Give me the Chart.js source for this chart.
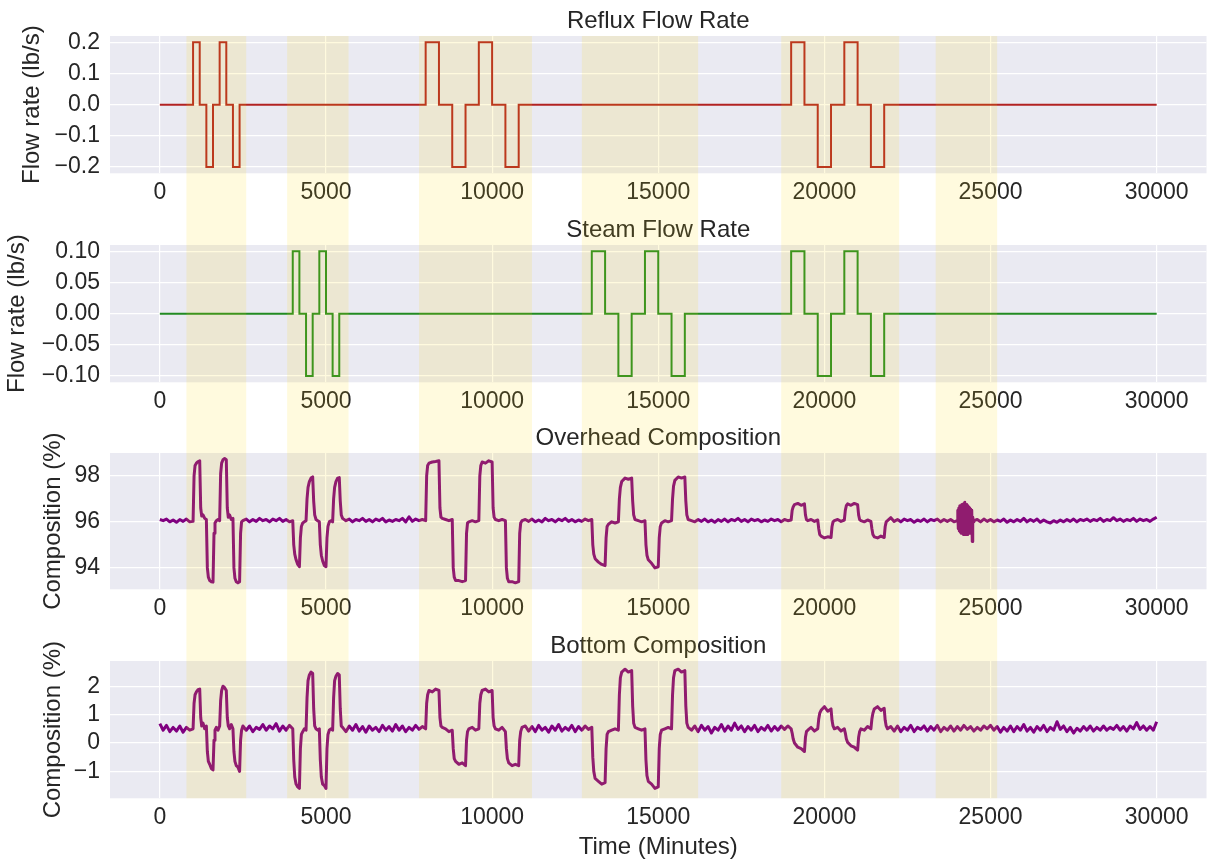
<!DOCTYPE html>
<html>
<head>
<meta charset="utf-8">
<title>Column step tests</title>
<script src="https://cdn.jsdelivr.net/npm/chart.js@4.4.1/dist/chart.umd.min.js"></script>
<style>
  body { margin: 0; background: #fff; }
  #wrap { position: relative; width: 1209px; height: 862px; }
  #wrap canvas { position: absolute; left: 0; }
</style>
</head>
<body>
<div id="wrap">
  <canvas id="reflux" width="1209" height="209" style="top:0px"></canvas>
  <canvas id="steam" width="1209" height="208" style="top:209px"></canvas>
  <canvas id="overhead" width="1209" height="208" style="top:417px"></canvas>
  <canvas id="bottom" width="1209" height="237" style="top:625px"></canvas>
</div>
<script>
// x axis (minutes)
const xTicks = [0, 5000, 10000, 15000, 20000, 25000, 30000];

// test windows shaded across all panels
const bandStart = [800, 3830, 7800, 12700, 18700, 23350];
const bandEnd = [2600, 5680, 11200, 16200, 22250, 25200];

// reflux input steps: value holds from each time until the next one
const refluxTimes = [0, 1000, 1200, 1400, 1600, 1800, 2000, 2200, 2400,
  8000, 8400, 8800, 9200, 9600, 10000, 10400, 10800,
  19000, 19400, 19800, 20200, 20600, 21000, 21400, 21800, 30000];
const refluxRate = [0, 0.2, 0, -0.2, 0, 0.2, 0, -0.2, 0,
  0.2, 0, -0.2, 0, 0.2, 0, -0.2, 0,
  0.2, 0, -0.2, 0, 0.2, 0, -0.2, 0, 0];

// steam input steps
const steamTimes = [0, 4000, 4200, 4400, 4600, 4800, 5000, 5200, 5400,
  13000, 13400, 13800, 14200, 14600, 15000, 15400, 15800,
  19000, 19400, 19800, 20200, 20600, 21000, 21400, 21800, 30000];
const steamRate = [0, 0.1, 0, -0.1, 0, 0.1, 0, -0.1, 0,
  0.1, 0, -0.1, 0, 0.1, 0, -0.1, 0,
  0.1, 0, -0.1, 0, 0.1, 0, -0.1, 0, 0];

// overhead composition [minute, %]
const overhead = [
  [0,96.1],[100,96.05],[200,96.12],[300,96.0],[400,96.08],[500,95.98],[600,96.1],[700,96.02],[800,96.12],[900,96.0],[1000,96.02],
  [1030,98.0],[1060,98.45],[1100,98.55],[1150,98.62],[1200,98.65],
  [1230,96.6],[1260,96.25],[1300,96.3],[1350,96.15],[1400,96.1],
  [1430,94.0],[1460,93.6],[1500,93.45],[1550,93.4],[1600,93.38],
  [1630,95.5],[1660,95.95],[1700,96.05],[1750,96.1],[1800,96.05],
  [1830,98.1],[1860,98.55],[1900,98.7],[1950,98.75],[2000,98.7],
  [2030,96.6],[2060,96.2],[2100,96.3],[2150,96.1],[2200,96.15],
  [2230,94.0],[2260,93.55],[2300,93.4],[2350,93.35],[2400,93.4],
  [2430,95.5],[2460,96.0],[2500,96.05],[2600,96.12],[2700,96.0],[2800,96.1],[2900,96.02],[3000,96.15],[3100,96.05],[3200,96.1],
  [3300,96.0],[3400,96.12],[3500,96.05],[3600,96.15],[3700,96.02],[3800,96.1],[3900,96.0],[4000,96.05],
  [4030,95.0],[4060,94.6],[4100,94.35],[4150,94.15],[4200,94.05],
  [4230,95.3],[4260,95.8],[4300,95.95],[4350,96.0],[4400,96.05],
  [4430,97.0],[4460,97.5],[4500,97.75],[4550,97.9],[4600,97.95],
  [4630,96.9],[4660,96.3],[4700,96.1],[4750,96.05],[4800,96.0],
  [4830,95.0],[4860,94.55],[4900,94.3],[4950,94.1],[5000,94.05],
  [5030,95.3],[5060,95.8],[5100,96.0],[5150,96.05],[5200,96.0],
  [5230,97.0],[5260,97.5],[5300,97.75],[5350,97.9],[5400,97.92],
  [5430,96.9],[5460,96.3],[5500,96.15],[5600,96.05],[5700,96.12],[5800,96.0],[5900,96.1],[6000,96.05],[6100,96.15],[6200,96.02],
  [6300,96.1],[6400,96.0],[6500,96.12],[6600,96.05],[6700,96.15],[6800,96.0],[6900,96.08],[7000,96.02],[7100,96.1],[7200,96.05],
  [7300,96.15],[7400,96.0],[7500,96.22],[7600,96.02],[7700,96.12],[7800,96.05],[7900,96.1],[8000,96.05],
  [8030,98.0],[8060,98.45],[8100,98.55],[8200,98.6],[8300,98.62],[8400,98.65],
  [8430,96.6],[8460,96.2],[8500,96.15],[8600,96.1],[8700,96.05],[8800,96.1],
  [8830,94.0],[8860,93.6],[8900,93.45],[9000,93.45],[9100,93.4],[9200,93.45],
  [9230,95.5],[9260,95.95],[9300,96.0],[9400,96.05],[9500,96.0],[9600,96.05],
  [9630,98.0],[9660,98.45],[9700,98.6],[9800,98.55],[9900,98.65],[10000,98.6],
  [10030,96.6],[10060,96.2],[10100,96.1],[10200,96.05],[10300,96.1],[10400,96.05],
  [10430,94.0],[10460,93.55],[10500,93.4],[10600,93.4],[10700,93.35],[10800,93.4],
  [10830,95.5],[10860,95.95],[10900,96.05],[11000,96.1],[11100,96.02],[11200,96.12],[11300,96.0],[11400,96.08],[11500,96.0],
  [11600,96.15],[11700,96.05],[11800,96.1],[11900,96.0],[12000,96.12],[12100,96.05],[12200,96.15],[12300,96.02],[12400,96.1],
  [12500,96.0],[12600,96.08],[12700,96.02],[12800,96.12],[12900,96.05],[13000,96.1],
  [13030,95.0],[13060,94.6],[13100,94.4],[13200,94.25],[13300,94.15],[13400,94.1],
  [13430,95.3],[13460,95.8],[13500,95.9],[13600,96.0],[13700,95.95],[13800,96.0],
  [13830,97.0],[13860,97.5],[13900,97.75],[14000,97.9],[14100,97.85],[14200,97.9],
  [14230,96.9],[14260,96.3],[14300,96.1],[14400,96.05],[14500,96.0],[14600,96.05],
  [14630,95.0],[14660,94.55],[14700,94.35],[14800,94.2],[14900,94.0],[15000,94.05],
  [15030,95.3],[15060,95.8],[15100,95.95],[15200,96.05],[15300,96.0],[15400,96.05],
  [15430,97.0],[15460,97.55],[15500,97.8],[15600,97.95],[15700,97.9],[15800,97.95],
  [15830,96.9],[15860,96.3],[15900,96.1],[16000,96.05],[16100,96.0],[16200,96.1],[16300,96.02],[16400,96.12],[16500,96.0],
  [16600,96.08],[16700,95.98],[16800,96.1],[16900,96.02],[17000,96.12],[17100,96.0],[17200,96.1],[17300,96.05],[17400,96.15],
  [17500,96.02],[17600,96.1],[17700,96.0],[17800,96.12],[17900,96.05],[18000,96.1],[18100,96.0],[18200,96.08],[18300,96.02],
  [18400,96.12],[18500,96.05],[18600,96.1],[18700,96.0],[18800,96.1],[18900,96.05],[19000,96.08],
  [19030,96.5],[19060,96.65],[19100,96.75],[19200,96.8],[19300,96.72],[19400,96.78],
  [19430,96.3],[19460,96.1],[19500,96.05],[19600,96.1],[19700,96.02],[19800,96.08],
  [19830,95.7],[19860,95.45],[19900,95.38],[20000,95.3],[20100,95.35],[20200,95.32],
  [20230,95.8],[20260,96.0],[20300,96.05],[20400,96.1],[20500,96.02],[20600,96.08],
  [20630,96.5],[20660,96.7],[20700,96.78],[20800,96.72],[20900,96.8],[21000,96.75],
  [21030,96.3],[21060,96.1],[21100,96.05],[21200,96.0],[21300,96.08],[21400,96.02],
  [21430,95.7],[21460,95.45],[21500,95.35],[21600,95.3],[21700,95.38],[21800,95.32],
  [21830,95.8],[21860,96.0],[21900,96.05],[22000,96.18],[22100,96.02],[22200,96.1],[22300,96.0],[22400,96.12],[22500,96.05],
  [22600,96.1],[22700,95.98],[22800,96.08],[22900,96.02],[23000,96.12],[23100,96.0],[23200,96.1],[23300,96.05],[23400,96.12],
  [23500,96.0],[23600,96.1],[23700,96.02],[23800,96.1],[23900,96.0],[24000,96.05],
  [24015,96.5],[24030,95.7],[24045,96.6],[24060,95.6],[24075,96.7],[24090,95.55],[24105,96.65],[24120,95.5],[24135,96.75],
  [24150,95.5],[24165,96.7],[24180,95.45],[24195,96.8],[24210,95.5],[24225,96.85],[24240,95.45],[24255,96.7],[24270,95.5],
  [24285,96.75],[24300,95.45],[24315,96.7],[24330,95.55],[24345,96.65],[24360,95.5],[24375,96.6],[24390,95.55],[24405,96.55],
  [24420,95.6],[24435,96.5],[24450,95.15],[24465,96.2],[24480,96.0],[24500,96.05],
  [24600,96.1],[24700,96.0],[24800,96.12],[24900,96.02],[25000,96.1],[25100,96.0],[25200,96.08],[25300,96.02],[25400,96.12],
  [25500,95.98],[25600,96.08],[25700,96.0],[25800,96.1],[25900,96.02],[26000,96.15],[26100,96.0],[26200,96.1],[26300,96.02],
  [26400,96.12],[26500,95.98],[26600,96.08],[26700,96.0],[26800,95.95],[26900,96.05],[27000,95.98],[27100,96.08],[27200,96.0],
  [27300,96.1],[27400,96.02],[27500,96.12],[27600,96.0],[27700,96.1],[27800,96.05],[27900,96.12],[28000,96.02],[28100,96.1],
  [28200,96.05],[28300,96.15],[28400,96.02],[28500,96.1],[28600,96.05],[28700,96.18],[28800,96.05],[28900,96.12],[29000,96.02],
  [29100,96.1],[29200,96.05],[29300,96.15],[29400,96.02],[29500,96.12],[29600,96.05],[29700,96.1],[29800,96.02],[29900,96.12],
  [30000,96.2]
];

// bottom composition [minute, %]
const bottoms = [
  [0,0.68],[100,0.45],[200,0.62],[300,0.4],[400,0.55],[500,0.42],[600,0.6],[700,0.38],[800,0.55],[900,0.45],[1000,0.5],
  [1030,1.4],[1060,1.7],[1100,1.8],[1150,1.88],[1200,1.9],
  [1230,0.9],[1260,0.6],[1300,0.7],[1350,0.5],[1400,0.6],
  [1430,-0.3],[1460,-0.65],[1500,-0.75],[1550,-0.9],[1600,-0.95],
  [1630,0.1],[1660,0.45],[1700,0.55],[1750,0.45],[1800,0.6],
  [1830,1.5],[1860,1.85],[1900,2.0],[1950,1.95],[2000,1.85],
  [2030,0.9],[2060,0.6],[2100,0.5],[2150,0.65],[2200,0.5],
  [2230,-0.3],[2260,-0.65],[2300,-0.8],[2350,-0.85],[2400,-1.0],
  [2430,0.1],[2460,0.45],[2500,0.6],[2600,0.45],[2700,0.6],[2800,0.4],[2900,0.55],[3000,0.48],[3100,0.65],[3200,0.45],
  [3300,0.6],[3400,0.5],[3500,0.68],[3600,0.42],[3700,0.6],[3800,0.45],[3900,0.62],[4000,0.5],
  [4030,-0.6],[4060,-1.2],[4100,-1.45],[4150,-1.55],[4200,-1.6],
  [4230,-0.2],[4260,0.3],[4300,0.4],[4350,0.5],[4400,0.45],
  [4430,1.6],[4460,2.2],[4500,2.4],[4550,2.5],[4600,2.45],
  [4630,1.2],[4660,0.6],[4700,0.5],[4750,0.45],[4800,0.5],
  [4830,-0.6],[4860,-1.2],[4900,-1.45],[4950,-1.5],[5000,-1.6],
  [5030,-0.2],[5060,0.3],[5100,0.45],[5150,0.5],[5200,0.45],
  [5230,1.6],[5260,2.2],[5300,2.35],[5350,2.45],[5400,2.4],
  [5430,1.2],[5460,0.6],[5500,0.55],[5600,0.4],[5700,0.6],[5800,0.45],[5900,0.65],[6000,0.42],[6100,0.58],[6200,0.38],
  [6300,0.6],[6400,0.45],[6500,0.55],[6600,0.4],[6700,0.62],[6800,0.45],[6900,0.58],[7000,0.42],[7100,0.65],[7200,0.45],
  [7300,0.6],[7400,0.4],[7500,0.55],[7600,0.45],[7700,0.62],[7800,0.48],[7900,0.58],[8000,0.5],
  [8030,1.4],[8060,1.7],[8100,1.85],[8200,1.8],[8300,1.9],[8400,1.85],
  [8430,0.9],[8460,0.6],[8500,0.55],[8600,0.5],[8700,0.4],[8800,0.45],
  [8830,-0.2],[8860,-0.55],[8900,-0.65],[9000,-0.75],[9100,-0.7],[9200,-0.8],
  [9230,0.1],[9260,0.4],[9300,0.5],[9400,0.55],[9500,0.45],[9600,0.5],
  [9630,1.4],[9660,1.7],[9700,1.85],[9800,1.9],[9900,1.8],[10000,1.85],
  [10030,0.9],[10060,0.6],[10100,0.5],[10200,0.45],[10300,0.55],[10400,0.4],
  [10430,-0.2],[10460,-0.55],[10500,-0.7],[10600,-0.8],[10700,-0.75],[10800,-0.8],
  [10830,0.1],[10860,0.4],[10900,0.55],[11000,0.6],[11100,0.42],[11200,0.58],[11300,0.4],[11400,0.62],[11500,0.45],
  [11600,0.55],[11700,0.38],[11800,0.6],[11900,0.45],[12000,0.65],[12100,0.42],[12200,0.55],[12300,0.45],[12400,0.62],
  [12500,0.4],[12600,0.58],[12700,0.45],[12800,0.6],[12900,0.48],[13000,0.55],
  [13030,-0.5],[13060,-1.0],[13100,-1.25],[13200,-1.35],[13300,-1.45],[13400,-1.4],
  [13430,-0.2],[13460,0.3],[13500,0.4],[13600,0.45],[13700,0.5],[13800,0.45],
  [13830,1.7],[13860,2.3],[13900,2.5],[14000,2.6],[14100,2.5],[14200,2.55],
  [14230,1.3],[14260,0.7],[14300,0.55],[14400,0.5],[14500,0.45],[14600,0.5],
  [14630,-0.6],[14660,-1.15],[14700,-1.35],[14800,-1.45],[14900,-1.6],[15000,-1.55],
  [15030,-0.2],[15060,0.3],[15100,0.45],[15200,0.5],[15300,0.55],[15400,0.5],
  [15430,1.7],[15460,2.3],[15500,2.55],[15600,2.6],[15700,2.5],[15800,2.55],
  [15830,1.3],[15860,0.7],[15900,0.55],[16000,0.45],[16100,0.6],[16200,0.4],[16300,0.62],[16400,0.45],[16500,0.58],
  [16600,0.35],[16700,0.55],[16800,0.45],[16900,0.65],[17000,0.42],[17100,0.6],[17200,0.45],[17300,0.7],[17400,0.48],
  [17500,0.6],[17600,0.4],[17700,0.58],[17800,0.45],[17900,0.62],[18000,0.4],[18100,0.55],[18200,0.45],[18300,0.62],
  [18400,0.42],[18500,0.58],[18600,0.45],[18700,0.6],[18800,0.48],[18900,0.6],[19000,0.5],
  [19030,0.35],[19060,0.15],[19100,0.0],[19200,-0.15],[19300,-0.2],[19400,-0.3],
  [19430,0.2],[19460,0.4],[19500,0.45],[19600,0.55],[19700,0.42],[19800,0.5],
  [19830,0.85],[19860,1.05],[19900,1.15],[20000,1.28],[20100,1.12],[20200,1.2],
  [20230,0.8],[20260,0.6],[20300,0.5],[20400,0.55],[20500,0.42],[20600,0.5],
  [20630,0.35],[20660,0.15],[20700,0.02],[20800,-0.1],[20900,-0.15],[21000,-0.25],
  [21030,0.2],[21060,0.4],[21100,0.5],[21200,0.45],[21300,0.58],[21400,0.5],
  [21430,0.85],[21460,1.05],[21500,1.2],[21600,1.28],[21700,1.15],[21800,1.22],
  [21830,0.8],[21860,0.6],[21900,0.5],[22000,0.58],[22100,0.42],[22200,0.6],[22300,0.4],[22400,0.55],[22500,0.45],
  [22600,0.62],[22700,0.4],[22800,0.55],[22900,0.48],[23000,0.6],[23100,0.42],[23200,0.58],[23300,0.45],[23400,0.62],
  [23500,0.4],[23600,0.55],[23700,0.45],[23800,0.6],[23900,0.42],[24000,0.58],[24100,0.45],[24200,0.62],[24300,0.48],
  [24400,0.58],[24500,0.42],[24600,0.55],[24700,0.45],[24800,0.6],[24900,0.5],[25000,0.62],[25100,0.45],[25200,0.58],
  [25300,0.38],[25400,0.55],[25500,0.42],[25600,0.6],[25700,0.4],[25800,0.58],[25900,0.45],[26000,0.65],[26100,0.42],
  [26200,0.55],[26300,0.38],[26400,0.58],[26500,0.45],[26600,0.62],[26700,0.4],[26800,0.55],[26900,0.45],[27000,0.75],
  [27100,0.48],[27200,0.6],[27300,0.4],[27400,0.55],[27500,0.35],[27600,0.52],[27700,0.42],[27800,0.58],[27900,0.45],
  [28000,0.6],[28100,0.42],[28200,0.55],[28300,0.45],[28400,0.6],[28500,0.45],[28600,0.55],[28700,0.48],[28800,0.62],
  [28900,0.45],[29000,0.58],[29100,0.42],[29200,0.6],[29300,0.5],[29400,0.72],[29500,0.48],[29600,0.6],[29700,0.45],
  [29800,0.58],[29900,0.45],[30000,0.75]
];

// y tick positions per panel
const refluxTicks = [-0.2, -0.1, 0, 0.1, 0.2];
const steamTicks = [-0.1, -0.05, 0, 0.05, 0.1];
const overheadTicks = [94, 96, 98];
const bottomTicks = [-1, 0, 1, 2];

const FONT = '"Liberation Sans", Arial, sans-serif';
const INK = '#262626';

// matplotlib style minus sign
function signed(v, digits) {
  return v.toFixed(digits).replace('-', '\u2212');
}

const plotBg = {
  id: 'plotBg',
  beforeDraw(chart) {
    const { ctx, chartArea: a } = chart;
    ctx.save();
    ctx.fillStyle = '#eaeaf2';
    ctx.fillRect(a.left, a.top, a.right - a.left, a.bottom - a.top);
    ctx.restore();
  }
};

// translucent windows drawn over everything, continuous from panel to panel
const shade = {
  id: 'shade',
  afterDraw(chart, args, opts) {
    const { ctx, chartArea: a } = chart;
    const x = chart.scales.x;
    const top = opts.clipTop ? a.top : 0;
    const bottom = opts.clipBottom ? a.bottom : chart.height;
    ctx.save();
    ctx.fillStyle = 'rgba(255, 215, 0, 0.13)';
    bandStart.forEach((s, i) => {
      const x0 = x.getPixelForValue(s);
      const x1 = x.getPixelForValue(bandEnd[i]);
      ctx.fillRect(x0, top, x1 - x0, bottom - top);
    });
    ctx.restore();
  }
};

function panel(id, o) {
  const gridOpts = { color: '#ffffff', lineWidth: 1.2, drawTicks: false };
  new Chart(document.getElementById(id), {
    type: 'line',
    data: {
      datasets: [{
        data: o.points,
        borderColor: o.color,
        borderWidth: o.lineWidth,
        stepped: o.stepped,
        borderJoinStyle: o.stepped ? 'miter' : 'round',
        pointRadius: 0,
        tension: 0
      }]
    },
    options: {
      responsive: false,
      animation: false,
      devicePixelRatio: 1,
      layout: { padding: { left: 0, right: 2.5, top: 0, bottom: 0 } },
      plugins: {
        legend: { display: false },
        tooltip: { enabled: false },
        title: {
          display: true, text: o.title, color: INK, fullSize: false,
          font: { family: FONT, size: 24, weight: 'normal', lineHeight: 1.2 },
          padding: { top: 6.6, bottom: 0.6 }
        },
        shade: { clipTop: o.clipTop, clipBottom: o.clipBottom }
      },
      scales: {
        x: {
          type: 'linear', min: -1500, max: 31500,
          grid: gridOpts, border: { display: false },
          ticks: { color: INK, font: { family: FONT, size: 23 }, padding: 6, maxRotation: 0, callback: v => String(v) },
          afterBuildTicks: s => { s.ticks = xTicks.map(v => ({ value: v })); },
          afterFit: s => { s.height = o.xHeight; },
          title: {
            display: !!o.xTitle, text: o.xTitle || '', color: INK,
            font: { family: FONT, size: 24, lineHeight: 1.2 },
            padding: { top: 0, bottom: 0.6 }
          }
        },
        y: {
          type: 'linear', min: o.yMin, max: o.yMax,
          grid: gridOpts, border: { display: false },
          ticks: { color: INK, font: { family: FONT, size: 23 }, padding: 10, callback: v => signed(v, o.digits) },
          afterBuildTicks: s => { s.ticks = o.yTicks.map(v => ({ value: v })); },
          afterFit: s => { s.width = 110; },
          title: {
            display: true, text: o.yTitle, color: INK,
            font: { family: FONT, size: 24, lineHeight: 1.2 },
            padding: { top: o.yTitlePad, bottom: 0 }
          }
        }
      }
    },
    plugins: [plotBg, shade]
  });
}

panel('reflux', {
  title: 'Reflux Flow Rate', yTitle: 'Flow rate (lb/s)', yTitlePad: 18,
  points: refluxTimes.map((t, i) => ({ x: t, y: refluxRate[i] })),
  color: '#b22222', lineWidth: 2, stepped: true,
  yMin: -0.22, yMax: 0.22, yTicks: refluxTicks, digits: 1,
  xHeight: 35.7, clipTop: true, clipBottom: false
});

panel('steam', {
  title: 'Steam Flow Rate', yTitle: 'Flow rate (lb/s)', yTitlePad: 3.3,
  points: steamTimes.map((t, i) => ({ x: t, y: steamRate[i] })),
  color: '#228b22', lineWidth: 2, stepped: true,
  yMin: -0.11, yMax: 0.11, yTicks: steamTicks, digits: 2,
  xHeight: 34.7, clipTop: false, clipBottom: false
});

panel('overhead', {
  title: 'Overhead Composition', yTitle: 'Composition (%)', yTitlePad: 39.4,
  points: overhead.map(p => ({ x: p[0], y: p[1] })),
  color: '#800080', lineWidth: 3, stepped: false,
  yMin: 93.07, yMax: 98.99, yTicks: overheadTicks, digits: 0,
  xHeight: 35.7, clipTop: false, clipBottom: false
});

panel('bottom', {
  title: 'Bottom Composition', yTitle: 'Composition (%)', yTitlePad: 39.4,
  points: bottoms.map(p => ({ x: p[0], y: p[1] })),
  color: '#800080', lineWidth: 3, stepped: false,
  yMin: -1.95, yMax: 2.89, yTicks: bottomTicks, digits: 0,
  xHeight: 63.7, xTitle: 'Time (Minutes)', clipTop: false, clipBottom: true
});
</script>
</body>
</html>
